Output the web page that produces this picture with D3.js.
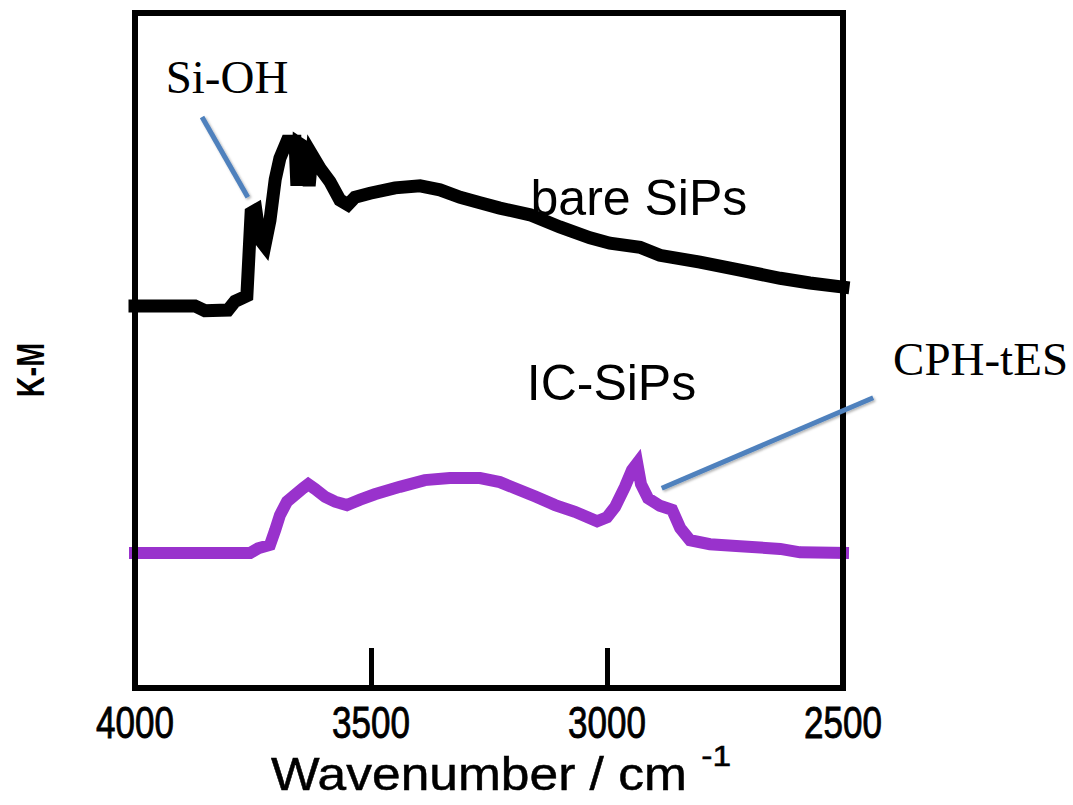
<!DOCTYPE html>
<html>
<head>
<meta charset="utf-8">
<script src="https://cdn.jsdelivr.net/npm/d3@7"></script>
<style>
  html, body { margin: 0; padding: 0; background: #fff; }
  svg { display: block; }
</style>
</head>
<body>
<svg id="chart" width="1073" height="805"></svg>
<script>
// ---- data (wavenumber / cm-1, K-M arbitrary units) ----
const xTicks = [4000, 3500, 3000, 2500];

const bareWn = [4000, 3873, 3852, 3803, 3788, 3763, 3754, 3744, 3735, 3725, 3714, 3703,
  3693, 3678, 3661, 3657, 3653, 3640, 3631, 3625, 3608, 3587, 3566, 3549, 3534,
  3502, 3449, 3396, 3354, 3311, 3269, 3227, 3163, 3100, 3036, 2994, 2930, 2888,
  2803, 2718, 2633, 2570, 2500];
const bareKM = [56.6, 56.6, 55.9, 56.0, 57.3, 58.1, 70.4, 70.8, 66.4, 65.5, 69.3, 75.3,
  78.5, 81.0, 81.0, 74.4, 80.7, 80.1, 74.4, 79.0, 77.0, 75.0, 72.3, 71.6, 72.7,
  73.3, 74.1, 74.4, 73.8, 72.7, 71.9, 71.1, 70.1, 68.3, 66.7, 65.9, 65.3, 64.1,
  63.1, 61.9, 60.7, 60.0, 59.4];

const icWn = [4000, 3756, 3739, 3714, 3703, 3693, 3678, 3661, 3644, 3633, 3619, 3597,
  3576, 3551, 3523, 3492, 3439, 3386, 3333, 3269, 3227, 3195, 3153, 3110, 3068,
  3021, 3000, 2983, 2962, 2947, 2936, 2928, 2913, 2888, 2862, 2845, 2824, 2782,
  2718, 2633, 2591, 2500];
const icKM = [20.0, 20.0, 20.7, 21.2, 23.4, 25.6, 27.6, 28.6, 29.6, 30.2, 29.5, 28.3,
  27.6, 27.1, 27.9, 28.7, 29.8, 30.8, 31.1, 31.1, 30.5, 29.6, 28.4, 27.1, 26.1,
  24.7, 25.3, 26.8, 29.8, 32.3, 33.3, 30.2, 28.1, 27.0, 26.4, 23.7, 21.9, 21.3,
  21.0, 20.6, 20.1, 20.0];

// annotation pointers [wn, km] -> [wn, km]
const siOHPointer = [[3858, 84.6], [3761, 72.7]];
const cphPointer = [[2436, 43.0], [2884, 29.6]];

const bare = bareWn.map((w, i) => ({ wn: w, km: bareKM[i] }));
const ic = icWn.map((w, i) => ({ wn: w, km: icKM[i] }));

// ---- chart ----
const svg = d3.select("#chart");
const margin = { top: 13, right: 230, bottom: 117, left: 135 };
const width = 1073, height = 805;
const innerW = width - margin.left - margin.right;
const innerH = height - margin.top - margin.bottom;
const sans = "'Liberation Sans', Arial, sans-serif";
const serif = "'Liberation Serif', 'Times New Roman', serif";

const x = d3.scaleLinear().domain([4000, 2500]).range([margin.left, margin.left + innerW]);
const y = d3.scaleLinear().domain([0, 100]).range([margin.top + innerH, margin.top]);

const defs = svg.append("defs");
defs.append("filter")
  .attr("id", "shadow")
  .attr("x", "-20%").attr("y", "-20%")
  .attr("width", "140%").attr("height", "140%")
  .append("feDropShadow")
  .attr("dx", 1.5).attr("dy", 1.5)
  .attr("stdDeviation", 1)
  .attr("flood-color", "#000")
  .attr("flood-opacity", 0.3);

const line = d3.line().x((d) => x(d.wn)).y((d) => y(d.km));

svg.append("path")
  .datum(bare)
  .attr("fill", "none")
  .attr("stroke", "#000")
  .attr("stroke-width", 13)
  .attr("stroke-linejoin", "miter")
  .attr("stroke-linecap", "square")
  .attr("d", line);

svg.append("path")
  .datum(ic)
  .attr("fill", "none")
  .attr("stroke", "#9932CC")
  .attr("stroke-width", 12)
  .attr("stroke-linejoin", "miter")
  .attr("stroke-linecap", "square")
  .attr("d", line);

// frame
svg.append("rect")
  .attr("x", margin.left)
  .attr("y", margin.top)
  .attr("width", innerW)
  .attr("height", innerH)
  .attr("fill", "none")
  .attr("stroke", "#000")
  .attr("stroke-width", 6);

// inner ticks
const xAxis = d3.axisBottom(x).tickValues(xTicks).tickSize(-40).tickFormat("");
svg.append("g")
  .attr("transform", `translate(0,${margin.top + innerH})`)
  .call(xAxis)
  .call((g) => g.select(".domain").remove())
  .call((g) => g.selectAll("line").attr("stroke", "#000").attr("stroke-width", 5));

// tick labels (a bit taller than plain Arial in the picture)
svg.append("g")
  .selectAll("text")
  .data(xTicks)
  .join("text")
  .attr("transform", (d) => `translate(${x(d)},738) scale(1,1.25)`)
  .attr("text-anchor", "middle")
  .style("font-family", sans)
  .style("font-size", "35px")
  .attr("fill", "#000")
  .attr("stroke", "#000")
  .attr("stroke-width", 0.7)
  .text(d3.format("d"));

// axis titles
const title = svg.append("text")
  .attr("transform", `translate(501,790) scale(1.12,1)`)
  .attr("text-anchor", "middle")
  .style("font-family", sans)
  .style("font-size", "46px")
  .attr("fill", "#000")
  .attr("stroke", "#000")
  .attr("stroke-width", 0.5);
title.append("tspan").text("Wavenumber / cm ");
title.append("tspan").attr("dy", -24).style("font-size", "30px").text("-1");

svg.append("text")
  .attr("transform", `translate(44,370) rotate(-90) scale(0.8,1.1)`)
  .attr("text-anchor", "middle")
  .style("font-family", sans)
  .style("font-size", "36px")
  .style("font-weight", "bold")
  .attr("fill", "#000")
  .text("K-M");

// series labels
svg.append("text")
  .attr("x", x(3162)).attr("y", y(70.1))
  .style("font-family", sans)
  .style("font-size", "50px")
  .attr("fill", "#000")
  .text("bare SiPs");

svg.append("text")
  .attr("x", x(3170)).attr("y", y(42.7))
  .style("font-family", sans)
  .style("font-size", "50px")
  .attr("fill", "#000")
  .text("IC-SiPs");

// annotations
const ann = [
  { text: "Si-OH", at: [3935, 88.1], ptr: siOHPointer },
  { text: "CPH-tES", at: [2394, 46.4], ptr: cphPointer },
];
ann.forEach((a) => {
  svg.append("line")
    .attr("x1", x(a.ptr[0][0])).attr("y1", y(a.ptr[0][1]))
    .attr("x2", x(a.ptr[1][0])).attr("y2", y(a.ptr[1][1]))
    .attr("stroke", "#4F81BD")
    .attr("stroke-width", 5)
    .attr("filter", "url(#shadow)");
  svg.append("text")
    .attr("x", x(a.at[0])).attr("y", y(a.at[1]))
    .style("font-family", serif)
    .style("font-size", "47px")
    .attr("fill", "#000")
    .text(a.text);
});
</script>
</body>
</html>
